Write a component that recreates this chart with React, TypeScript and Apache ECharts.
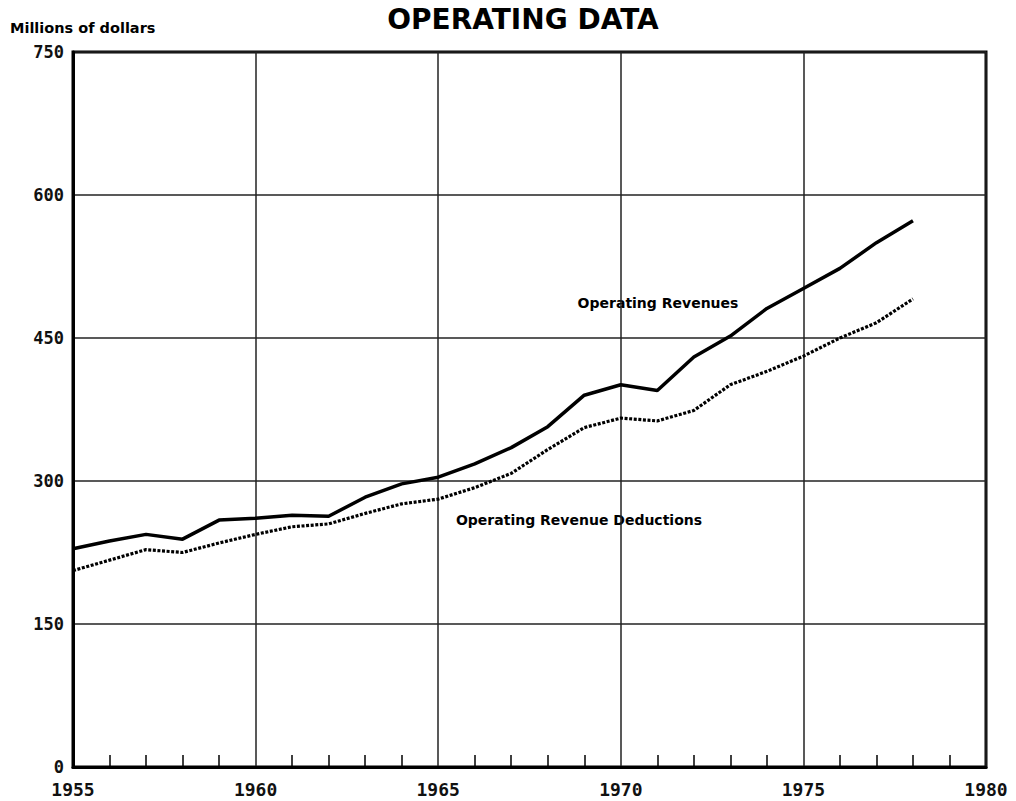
import React, { useEffect, useRef } from "react";
import * as echarts from "echarts";

const years = [1955, 1956, 1957, 1958, 1959, 1960, 1961, 1962, 1963, 1964, 1965, 1966, 1967, 1968, 1969, 1970, 1971, 1972, 1973, 1974, 1975, 1976, 1977, 1978];
const revenues = [229, 237, 244, 239, 259, 261, 264, 263, 283, 297, 304, 318, 335, 357, 390, 401, 395, 430, 452, 481, 502, 523, 550, 573];
const deductions = [206, 217, 228, 225, 235, 244, 252, 255, 266, 276, 281, 293, 308, 333, 356, 366, 363, 374, 401, 415, 431, 450, 466, 491];
const title = "OPERATING DATA";
const unitLabel = "Millions of dollars";
const revenueLabel = "Operating Revenues";
const deductionLabel = "Operating Revenue Deductions";

export default function App() {
  const ref = useRef<HTMLDivElement>(null);
  useEffect(() => {
    if (!ref.current) return;
    const chart = echarts.init(ref.current, null, { renderer: "svg" });
    const tickFont = {
      fontFamily: "DejaVu Sans Mono",
      fontWeight: "bold" as const,
      color: "#111",
    };
    chart.setOption({
      animation: false,
      backgroundColor: "#fff",
      grid: {
        left: 73,
        right: 30,
        top: 52,
        bottom: 34,
        show: true,
        borderColor: "#000",
        borderWidth: 3,
        containLabel: false,
      },
      xAxis: {
        type: "value",
        min: 1955,
        max: 1980,
        interval: 5,
        axisLine: { show: true, lineStyle: { color: "#000", width: 3 } },
        axisTick: { show: false, inside: true, length: 12 },
        minorTick: {
          show: true,
          splitNumber: 5,
          length: 12,
          lineStyle: { color: "#000", width: 1.5 },
        },
        splitLine: { show: true, lineStyle: { color: "#222", width: 1.5 } },
        axisLabel: {
          ...tickFont,
          fontSize: 18,
          margin: 13,
          formatter: (v: number) => String(v),
        },
      },
      yAxis: {
        type: "value",
        min: 0,
        max: 750,
        interval: 150,
        axisLine: { show: true, lineStyle: { color: "#000", width: 3 } },
        axisTick: { show: false },
        splitLine: { show: true, lineStyle: { color: "#222", width: 1.5 } },
        axisLabel: { ...tickFont, fontSize: 17, margin: 9 },
      },
      series: [
        {
          name: revenueLabel,
          type: "line",
          data: years.map((y, i) => [y, revenues[i]]),
          symbol: "none",
          lineStyle: { color: "#000", width: 3.5, type: "solid" },
        },
        {
          name: deductionLabel,
          type: "line",
          data: years.map((y, i) => [y, deductions[i]]),
          symbol: "none",
          lineStyle: { color: "#000", width: 3.2, type: [3, 1.6] },
        },
      ],
      graphic: [
        {
          type: "text",
          x: 523,
          y: 19,
          style: {
            text: title,
            fontFamily: "DejaVu Sans",
            fontWeight: "bold",
            fontSize: 28,
            fill: "#000",
            align: "center",
            verticalAlign: "middle",
          },
        },
        {
          type: "text",
          x: 10,
          y: 28,
          style: {
            text: unitLabel,
            fontFamily: "DejaVu Sans",
            fontWeight: "bold",
            fontSize: 14.5,
            fill: "#000",
            align: "left",
            verticalAlign: "middle",
          },
        },
        {
          type: "text",
          x: 658,
          y: 303,
          style: {
            text: revenueLabel,
            fontFamily: "DejaVu Sans",
            fontWeight: "bold",
            fontSize: 14,
            fill: "#000",
            align: "center",
            verticalAlign: "middle",
          },
        },
        {
          type: "text",
          x: 579,
          y: 520,
          style: {
            text: deductionLabel,
            fontFamily: "DejaVu Sans",
            fontWeight: "bold",
            fontSize: 14,
            fill: "#000",
            align: "center",
            verticalAlign: "middle",
          },
        },
      ],
    });
    return () => chart.dispose();
  }, []);
  return <div ref={ref} style={{ width: 1016, height: 801, position: "absolute", left: 0, top: 0 }} />;
}
